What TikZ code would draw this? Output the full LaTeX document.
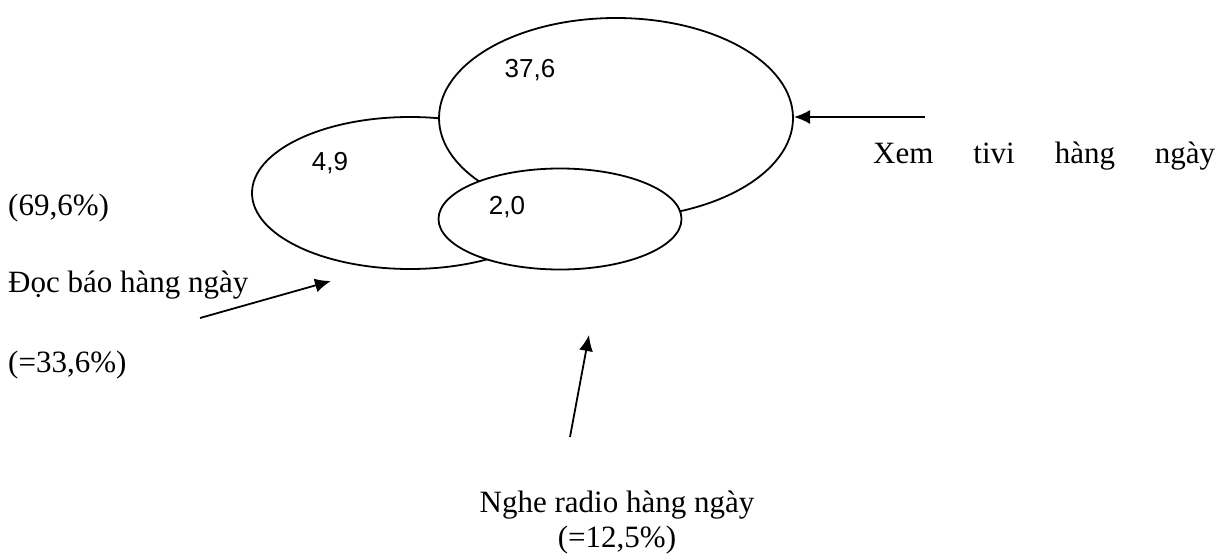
\documentclass[tikz,border=0pt]{standalone}
\usepackage{fontspec}
\setmainfont{Liberation Serif}
\newfontfamily\arialfont{Liberation Sans}
\usetikzlibrary{shapes.geometric,arrows.meta}
\begin{document}
\begin{tikzpicture}[x=1pt,y=-1pt,
  setshape/.style={ellipse,draw,fill=white,line width=1.8pt,inner sep=0pt},
  num/.style={font=\arialfont\fontsize{26}{30}\selectfont,inner sep=0pt},
  lab/.style={font=\fontsize{31}{35}\selectfont,inner sep=0pt,anchor=base west},
  arr/.style={line width=1.8pt,-{Latex[length=16pt,width=14pt]}}]
\useasboundingbox[fill=white] (0,0) rectangle (1222,554);
\node[setshape,minimum width=316pt,minimum height=152pt] (doc) at (410,193) {};
\node[setshape,minimum width=354pt,minimum height=200pt] (tv) at (616,118) {};
\node[setshape,minimum width=243pt,minimum height=101pt] (radio) at (560,219) {};
\node[num] (n1) at (530,70) {37,6};
\node[num] (n2) at (330,163) {4,9};
\node[num] (n3) at (507,207) {2,0};
\node[lab] (xem) at (873,163) {\hbox to 342pt{Xem\hfill tivi\hfill hàng\hfill ngày}};
\node[lab] (pct1) at (8,215) {(69,6\%)};
\node[lab] (doclab) at (8,292) {Đọc báo hàng ngày};
\node[lab] (pct2) at (8,372) {(=33,6\%)};
\node[lab,anchor=base] (radiolab) at (617,512) {Nghe radio hàng ngày};
\node[lab,anchor=base] (radiopct) at (617,547) {(=12,5\%)};
\coordinate (a1s) at (925,117); \coordinate (a1e) at (794,117);
\coordinate (a2s) at (200,318); \coordinate (a2e) at (331,281);
\coordinate (a3s) at (570,437); \coordinate (a3e) at (589,335);
\draw[arr] (a1s) -- (a1e);
\draw[arr] (a2s) -- (a2e);
\draw[arr] (a3s) -- (a3e);
\end{tikzpicture}
\end{document}
